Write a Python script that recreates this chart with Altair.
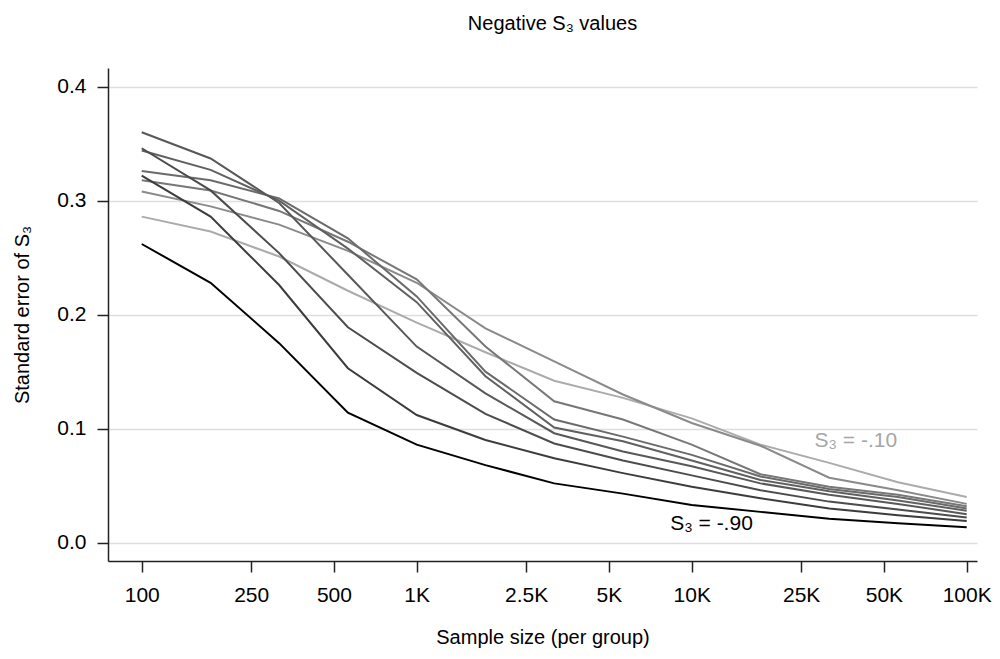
import altair as alt
import pandas as pd

# ---- data ----
sample_sizes = [100, 178, 316, 562, 1000, 1778, 3162, 5623, 10000, 17783, 31623, 56234, 100000]
s3_values = ["-.10", "-.20", "-.30", "-.40", "-.50", "-.60", "-.70", "-.80", "-.90"]

se_10 = [0.286, 0.273, 0.251, 0.221, 0.193, 0.167, 0.142, 0.127, 0.109, 0.086, 0.070, 0.053, 0.040]
se_20 = [0.308, 0.295, 0.279, 0.256, 0.228, 0.188, 0.159, 0.130, 0.105, 0.085, 0.057, 0.046, 0.034]
se_30 = [0.318, 0.309, 0.291, 0.264, 0.231, 0.172, 0.124, 0.108, 0.086, 0.060, 0.049, 0.042, 0.032]
se_40 = [0.326, 0.318, 0.302, 0.267, 0.216, 0.150, 0.108, 0.093, 0.077, 0.058, 0.047, 0.040, 0.030]
se_50 = [0.344, 0.327, 0.300, 0.258, 0.211, 0.146, 0.101, 0.089, 0.072, 0.055, 0.045, 0.037, 0.028]
se_60 = [0.360, 0.337, 0.298, 0.235, 0.172, 0.131, 0.096, 0.080, 0.067, 0.052, 0.042, 0.034, 0.025]
se_70 = [0.346, 0.309, 0.254, 0.189, 0.149, 0.113, 0.087, 0.072, 0.059, 0.046, 0.036, 0.029, 0.022]
se_80 = [0.322, 0.286, 0.226, 0.153, 0.112, 0.090, 0.074, 0.061, 0.049, 0.039, 0.030, 0.024, 0.019]
se_90 = [0.262, 0.228, 0.175, 0.114, 0.086, 0.068, 0.052, 0.043, 0.033, 0.027, 0.021, 0.017, 0.0135]

x_tick_values = [100, 250, 500, 1000, 2500, 5000, 10000, 25000, 50000, 100000]
y_tick_values = [0.0, 0.1, 0.2, 0.3, 0.4]

line_colors = ["#ababab", "#8a8a8a", "#777777", "#6a6a6a", "#606060", "#585858", "#4c4c4c", "#3c3c3c", "#000000"]

label_texts = ["S\u2083 = -.10", "S\u2083 = -.90"]
label_x = [39500, 11800]
label_y = [0.0888, 0.0164]
label_colors = ["#a6a6a6", "#000000"]

# ---- build table ----
series = [se_10, se_20, se_30, se_40, se_50, se_60, se_70, se_80, se_90]
rows = []
for i, (lab, vals) in enumerate(zip(s3_values, series)):
    for n, v in zip(sample_sizes, vals):
        rows.append({"s3": lab, "order": i, "n": n, "se": v})
df = pd.DataFrame(rows)

ann = pd.DataFrame({"text": label_texts, "n": label_x, "se": label_y, "col": label_colors})

FONT = "Liberation Sans"

x_scale = alt.Scale(type="log", domain=[75.4, 109000], nice=False)
y_scale = alt.Scale(domain=[-0.0161, 0.4164], nice=False, zero=False)

lines = alt.Chart(df).mark_line(strokeWidth=2).encode(
    x=alt.X("n:Q", scale=x_scale,
            axis=alt.Axis(title="Sample size (per group)", values=x_tick_values,
                          labelExpr="datum.value >= 1000 ? (datum.value/1000) + 'K' : '' + datum.value",
                          grid=False, tickSize=11, labelPadding=12, titlePadding=22,
                          labelFlush=False, labelOverlap=False)),
    y=alt.Y("se:Q", scale=y_scale,
            axis=alt.Axis(title="Standard error of S\u2083", values=y_tick_values, format=".1f",
                          grid=True, tickSize=11, labelPadding=11, titlePadding=24,
                          labelFlush=False)),
    color=alt.Color("s3:N", scale=alt.Scale(domain=s3_values, range=line_colors), legend=None),
    detail="s3:N",
    order=alt.Order("order:Q"),
)

labels = alt.Chart(ann).mark_text(font=FONT, fontSize=21, align="center", baseline="middle").encode(
    x=alt.X("n:Q", scale=x_scale),
    y=alt.Y("se:Q", scale=y_scale),
    text="text:N",
    color=alt.Color("col:N", scale=None),
)

chart = alt.layer(lines, labels).properties(
    width=869,
    height=493,
    autosize=alt.AutoSizeParams(type="none"),
    padding={"left": 108, "top": 68, "right": 23, "bottom": 98},
    title=alt.TitleParams("Negative S\u2083 values", font=FONT, fontSize=20, fontWeight="normal",
                          color="#000000", anchor="middle", offset=34, dx=10),
).configure(background="white").configure_view(stroke=None).configure_axis(
    labelFont=FONT, titleFont=FONT, labelFontSize=21, titleFontSize=20,
    titleFontWeight="normal", labelColor="#000000", titleColor="#000000",
    domainColor="#222222", tickColor="#222222", domainWidth=1.5, tickWidth=1.5,
    gridColor="#dedede", gridWidth=1.5,
)

chart.save("out.html", embed_options={"renderer": "svg", "actions": False})
